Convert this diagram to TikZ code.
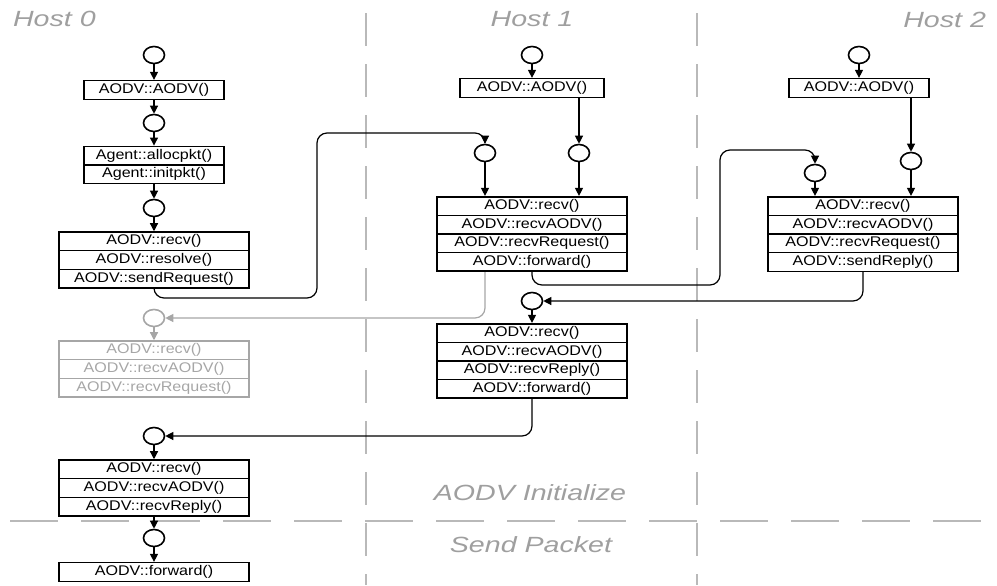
\documentclass[tikz,border=0pt]{standalone}
\usepackage{fontspec}
\setmainfont{Liberation Sans}
\newfontfamily\callfont[FakeStretch=1.15]{Liberation Sans}
\newfontfamily\phasefont[FakeStretch=1.3]{Liberation Sans}
\usetikzlibrary{calc, shapes, arrows.meta}

\begin{document}
\begin{tikzpicture}[x=.5pt, y=-.5pt]
    \tikzstyle{state} = [ellipse, draw, thick, minimum width=10.5pt, minimum height=8.5pt, inner sep=0pt]
    \tikzstyle{call} = [rectangle split, draw, thick, inner xsep=0pt, inner ysep=1pt, text width=70pt, align=center, font=\callfont\fontsize{7}{8}\selectfont]
    \tikzstyle{wide call} = [call, text width=95pt]
    \tikzstyle{flow} = [semithick, -{Triangle[length=4pt, width=4pt]}]
    \tikzstyle{lost} = [draw=gray!70, text=gray!70]
    \tikzstyle{separator} = [line width=1.4pt, gray!55]
    \tikzstyle{phase} = [font=\phasefont\itshape\fontsize{11}{13}\selectfont, text=gray!75]

    \useasboundingbox (0, 0) rectangle (997, 585);

    % Phases -------------------------------------------
    \draw[separator, dash pattern=on 16.5pt off 9pt] (366, 13) -- (366, 585);
    \draw[separator, dash pattern=on 16.5pt off 9pt] (697, 13) -- (697, 585);
    \draw[separator, dash pattern=on 24pt off 11.5pt] (10, 521) -- (997, 521);

    \node[phase, anchor=west] (host_0) at (6, 19) {Host 0};
    \node[phase] (host_1) at (532, 19) {Host 1};
    \node[phase, anchor=east] (host_2) at (993, 20) {Host 2};
    \node[phase] (init_phase) at (530, 493) {AODV Initialize};
    \node[phase] (send_phase) at (531, 545) {Send Packet};

    % Host 0 -------------------------------------------
    \node[state] (s0_1) at (154, 55) {};
    \node[call, rectangle split parts=1] (aodv_0) at (154, 90) {AODV::AODV()};
    \node[state] (s0_2) at (154, 123) {};
    \node[call, rectangle split parts=2] (alloc_0) at (154, 165) {Agent::allocpkt() \nodepart{two} Agent::initpkt()};
    \node[state] (s0_3) at (154, 208) {};
    \node[wide call, rectangle split parts=3] (req_0) at (154, 260) {AODV::recv() \nodepart{two} AODV::resolve() \nodepart{three} AODV::sendRequest()};
    \node[state, lost] (s0_4) at (154, 318) {};
    \node[wide call, lost, rectangle split parts=3] (lost_0) at (154, 369) {AODV::recv() \nodepart{two} AODV::recvAODV() \nodepart{three} AODV::recvRequest()};
    \node[state] (s0_5) at (154, 436) {};
    \node[wide call, rectangle split parts=3] (reply_0) at (154, 488) {AODV::recv() \nodepart{two} AODV::recvAODV() \nodepart{three} AODV::recvReply()};
    \node[state] (s0_6) at (154, 538) {};
    \node[wide call, rectangle split parts=1] (fwd_0) at (154, 572) {AODV::forward()};

    % Host 1 -------------------------------------------
    \node[state] (s1_1) at (532, 55) {};
    \node[call, rectangle split parts=1, text width=72pt] (aodv_1) at (532, 88) {AODV::AODV()};
    \node[state] (s1_2) at (485, 153) {};
    \node[state] (s1_3) at (579, 153) {};
    \node[wide call, rectangle split parts=4] (req_1) at (532, 234) {AODV::recv() \nodepart{two} AODV::recvAODV() \nodepart{three} AODV::recvRequest() \nodepart{four} AODV::forward()};
    \node[state] (s1_4) at (532, 301) {};
    \node[wide call, rectangle split parts=4] (reply_1) at (532, 361) {AODV::recv() \nodepart{two} AODV::recvAODV() \nodepart{three} AODV::recvReply() \nodepart{four} AODV::forward()};

    % Host 2 -------------------------------------------
    \node[state] (s2_1) at (859, 55) {};
    \node[call, rectangle split parts=1] (aodv_2) at (859, 88) {AODV::AODV()};
    \node[state] (s2_2) at (815, 173) {};
    \node[state] (s2_3) at (911, 161) {};
    \node[wide call, rectangle split parts=4] (req_2) at (863, 234) {AODV::recv() \nodepart{two} AODV::recvAODV() \nodepart{three} AODV::recvRequest() \nodepart{four} AODV::sendReply()};
    % ---------------------------------------------------

    % Local calls
    \draw[flow] (s0_1) -- (aodv_0);
    \draw[flow] (aodv_0) -- (s0_2);
    \draw[flow] (s0_2) -- (alloc_0);
    \draw[flow] (alloc_0) -- (s0_3);
    \draw[flow] (s0_3) -- (req_0);
    \draw[flow, lost] (s0_4) -- (lost_0);
    \draw[flow] (s0_5) -- (reply_0);
    \draw[flow] (reply_0) -- (s0_6);
    \draw[flow] (s0_6) -- (fwd_0);

    \draw[flow] (s1_1) -- (aodv_1);
    \draw[flow] (aodv_1.south -| s1_3) -- (s1_3);
    \draw[flow] (s1_2) -- (s1_2 |- req_1.north);
    \draw[flow] (s1_3) -- (s1_3 |- req_1.north);
    \draw[flow] (s1_4) -- (reply_1);

    \draw[flow] (s2_1) -- (aodv_2);
    \draw[flow] (aodv_2.south -| s2_3) -- (s2_3);
    \draw[flow] (s2_2) -- (s2_2 |- req_2.north);
    \draw[flow] (s2_3) -- (s2_3 |- req_2.north);

    % Packets between hosts
    \draw[flow, rounded corners=5pt] (req_0.south) |- (317, 298) |- ($(s1_2) + (0, -20)$) -- (s1_2);
    \draw[flow, lost, rounded corners=5pt] (req_1.south -| s1_2) |- (s0_4);
    \draw[flow, rounded corners=5pt] (req_1.south) |- (720, 285) |- ($(s2_2) + (0, -23)$) -- (s2_2);
    \draw[flow, rounded corners=5pt] (req_2.south) |- (s1_4);
    \draw[flow, rounded corners=5pt] (reply_1.south) |- (s0_5);
\end{tikzpicture}
\end{document}
